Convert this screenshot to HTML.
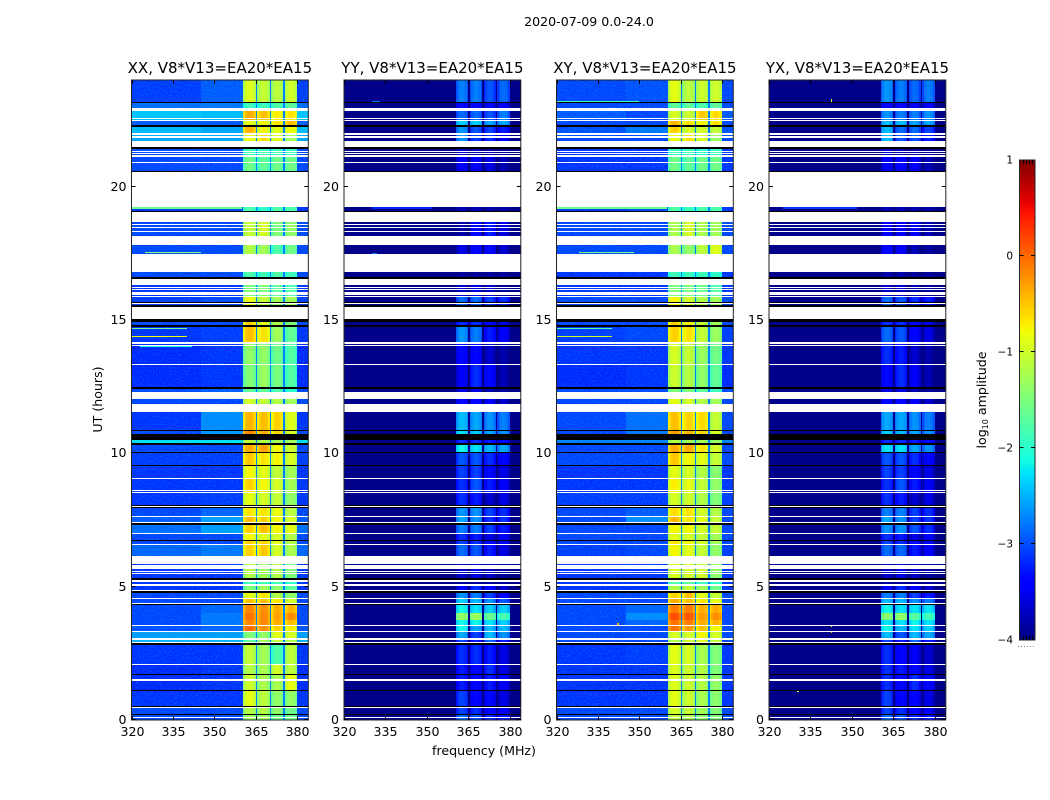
<!DOCTYPE html>
<html>
<head>
<meta charset="utf-8">
<title>2020-07-09 0.0-24.0</title>
<style>
html,body{margin:0;padding:0;background:#fff;width:1050px;height:800px;overflow:hidden}
svg{display:block}
text{font-family:"DejaVu Sans","Liberation Sans",sans-serif;fill:#000}
</style>
</head>
<body>
<svg id="figure" xmlns="http://www.w3.org/2000/svg" width="1050" height="800" viewBox="0 0 1050 800">
  <defs>
    <filter id="speckle" x="0" y="0" width="100%" height="100%">
      <feTurbulence type="fractalNoise" baseFrequency="0.62" numOctaves="1" seed="7"/>
      <feColorMatrix type="matrix" values="0 0 0 0 0  0 0 0 0 0.5  0 0 0 0 1  3 0 0 0 -1.3"/>
    </filter>
    <linearGradient id="jet-gradient" x1="0" y1="1" x2="0" y2="0"></linearGradient>
  </defs>
  <rect width="1050" height="800" fill="#fff"/>
  <text x="589" y="26" text-anchor="middle" font-size="12.6">2020-07-09 0.0-24.0</text>
  <text x="484" y="755" text-anchor="middle" font-size="12.6">frequency (MHz)</text>
  <text transform="translate(102,399.5) rotate(-90)" text-anchor="middle" font-size="12.6">UT (hours)</text>
  <text transform="translate(986,400) rotate(-90)" text-anchor="middle" font-size="12.6">log<tspan font-size="8" dy="2">10</tspan><tspan dy="-2"> amplitude</tspan></text>
  <g id="panels"></g>
  <g id="colorbar"></g>
</svg>
<script>
// Polarisation panels
const panelTitles = ['XX, V8*V13=EA20*EA15', 'YY, V8*V13=EA20*EA15', 'XY, V8*V13=EA20*EA15', 'YX, V8*V13=EA20*EA15'];
const hourTicks = [0, 5, 10, 15, 20];
const freqTicks = [320, 335, 350, 365, 380];
const colorTicks = [1, 0, -1, -2, -3, -4];
const colorMin = -4;
const colorMax = 1;

// Frequency windows (MHz): the four spectral windows
const spwWindows = [[360.4, 365], [365.6, 370], [370.5, 375], [375.5, 380]];
// Relative log amplitude across each spectral window
const spwShape = [-0.22, -0.06, 0.02, 0.06, 0.05, 0.02, -0.03, -0.16];

// Time blocks (UT hours, descending)
const blockEdges = [24, 23.15, 22.85, 22.45, 22.28, 21.97, 21.45, 21.11, 19.24, 18.66, 17.81, 16.8, 16.3, 15.85, 15.04, 14.78, 14.14, 13.31, 12.4, 12.04, 11.56, 10.86, 10.5, 10.35, 10.03, 9.55, 9.05, 8.55, 8, 7.6, 7.4, 6.98, 6.72, 6.58, 5.85, 5.28, 5.06, 4.85, 4.56, 4.32, 4, 3.75, 3.53, 3.32, 3.04, 2.85, 2.08, 1.71, 1.11, 0.52, 0.2, 0];

// Log10 amplitudes per block: [bg 320-345, bg 345-360, spw1, spw2, spw3, spw4]
const levelsXX = [
[-3.1,-2.95,-0.95,-1.1,-1.15,-1.05],[-2.85,-2.8,-1.9,-1.9,-1.8,-1.7],[-2.4,-2.45,-0.4,-0.5,-0.75,-0.7],[-2.95,-2.95,-0.9,-0.8,-0.7,-0.5],[-2.45,-2.55,-0.45,-0.8,-0.9,-0.85],[-2.55,-2.55,-0.85,-0.65,-0.9,-1.3],[-3.05,-3.05,-1.9,-1.9,-1.9,-1.9],[-3.05,-3.05,-1.6,-1.7,-1.6,-1.6],[-3.15,-3.05,-1.8,-2,-1.8,-1.8],[-3.05,-3.05,-1.1,-1,-1.5,-1.4],
[-3.05,-3.05,-1.2,-1.3,-1.8,-1.6],[-3.05,-3.05,-1.8,-1.9,-1.8,-1.9],[-3.15,-3.15,-1.5,-1.5,-1.7,-1.8],[-3.1,-3.05,-0.85,-1.1,-1.3,-1.3],[-3.05,-3.05,-0.6,-0.9,-1.2,-1.5],[-3.15,-3.1,-0.5,-0.7,-1.3,-1.7],[-3.2,-3.15,-1.4,-1.4,-1.6,-1.8],[-3.2,-3.15,-1.5,-1.35,-1.55,-1.8],[-3.05,-2.95,-1.7,-1.7,-1.8,-2],[-3.05,-3.05,-1,-1.1,-1.2,-1.3],
[-3.15,-2.7,-0.45,-0.5,-0.6,-0.95],[-3.05,-2.65,-0.2,-0.4,-0.6,-1],[-2.25,-2.25,-1.1,-1.2,-1.3,-1.3],[-3.05,-3.05,-0.4,-0.35,-0.8,-1.05],[-3.1,-3.1,-0.55,-0.7,-0.8,-1],[-3.15,-3.15,-0.8,-0.9,-1.1,-1.3],[-3.15,-3.15,-0.6,-0.8,-1,-1.3],[-3.15,-3.1,-0.9,-1,-1.1,-1.4],[-3.05,-2.9,-0.7,-0.7,-0.85,-1.15],[-2.95,-2.6,-0.5,-0.6,-0.8,-1],
[-2.85,-2.6,-0.6,-0.5,-0.8,-0.9],[-3.05,-3.05,-0.8,-0.9,-1,-1.2],[-3.05,-3.05,-0.6,-0.6,-0.9,-1.2],[-2.9,-2.8,-0.6,-0.55,-1,-1.25],[-3.15,-3.15,-1.2,-1.3,-1.2,-1.5],[-3.15,-3.15,-1.9,-1.9,-1.9,-2],[-3.15,-3.15,-1.5,-1.3,-1.4,-1.7],[-3.05,-3.05,-0.9,-0.7,-1.2,-1.4],[-3.05,-3.05,-0.5,-0.5,-0.7,-1],[-3.05,-2.9,-0.2,-0.25,-0.4,-0.45],
[-3.05,-2.8,-0.1,-0.2,-0.35,-0.25],[-3.05,-2.8,-0.2,-0.2,-0.4,-0.5],[-3,-2.9,-0.05,-0.25,-0.6,-0.75],[-2.6,-2.6,-1.5,-1.4,-0.9,-1],[-2.5,-2.5,-1.7,-1.3,-1.1,-1.2],[-3.15,-3.15,-1.1,-1.3,-1.8,-1.15],[-3.2,-3.15,-1.2,-1.25,-1,-1.15],[-3.2,-3.15,-1.05,-1.25,-1.25,-0.9],[-3.15,-3.15,-0.9,-1.15,-1.4,-1.4],[-3.05,-3.05,-1.2,-1.2,-1.4,-1.6],[-3.05,-3.05,-1.3,-1.3,-1.6,-1.6]
];
const levelsXY = [
[-3.05,-3,-0.9,-1.15,-1.05,-1.05],[-3.05,-3.05,-1.7,-1.7,-1.8,-1.7],[-2.95,-3.05,-1,-1.05,-0.55,-0.65],[-3.05,-3.05,-0.45,-0.7,-0.8,-0.7],[-3,-2.8,-0.6,-1,-1,-1.1],[-3.05,-3.05,-0.85,-0.7,-0.95,-1.35],[-3.15,-3.15,-1.9,-1.9,-2,-1.9],[-3.15,-3.15,-1.6,-1.7,-1.6,-1.6],[-3.15,-3.05,-1.8,-1.9,-1.8,-1.8],[-3.05,-3.05,-1.25,-1,-1.25,-1.3],
[-3.05,-3.05,-1.25,-1.4,-1.15,-0.95],[-3.15,-3.15,-1.9,-1.9,-1.9,-2],[-3.15,-3.15,-1.5,-1.5,-1.6,-1.8],[-3.05,-3.05,-0.8,-1,-1.2,-1.3],[-3.05,-3.05,-0.6,-0.8,-1.1,-1.3],[-3.1,-3.05,-0.6,-0.7,-1.1,-1.35],[-3.15,-3.15,-1,-1.1,-1.35,-1.6],[-3.2,-3.15,-1.05,-1.2,-1.4,-1.7],[-3.05,-3.05,-1.5,-1.5,-1.7,-1.9],[-3.05,-3.05,-0.9,-1,-1.2,-1.3],
[-3.05,-2.85,-0.5,-0.6,-0.65,-1.1],[-3.05,-2.8,-0.3,-0.45,-0.6,-1],[-2.75,-2.75,-1.2,-1.3,-1.3,-1.4],[-3.05,-3.05,-0.4,-0.4,-0.7,-1],[-3.05,-3.05,-0.55,-0.8,-0.9,-1.1],[-3.15,-3.15,-0.9,-1,-1.2,-1.45],[-3.15,-3.15,-0.75,-0.9,-1.1,-1.4],[-3.1,-3.1,-1,-1.05,-1.2,-1.5],[-3.05,-2.95,-0.65,-0.7,-1,-1.2],[-3.05,-2.7,-0.45,-0.7,-0.9,-1.1],
[-3.05,-3.05,-0.8,-0.8,-1,-1.1],[-3.05,-3.05,-0.9,-1,-1.1,-1.3],[-3.05,-3.05,-0.7,-0.8,-1,-1.3],[-3.1,-3.05,-0.8,-0.9,-1.1,-1.4],[-3.15,-3.15,-0.95,-1,-1,-1.4],[-3.15,-3.15,-1.8,-1.7,-1.9,-2],[-3.15,-3.15,-1.2,-1.1,-1.3,-1.6],[-3.05,-3.05,-0.6,-0.5,-0.9,-1.1],[-3.05,-3.05,-0.4,-0.5,-0.7,-0.9],[-3.05,-2.9,-0.15,-0.15,-0.4,-0.4],
[-3.05,-2.7,0.1,0.05,-0.3,-0.25],[-3.05,-2.9,-0.1,-0.15,-0.4,-0.45],[-3.05,-3.05,-0.1,-0.3,-0.5,-0.8],[-3.05,-3.05,-1,-1,-0.8,-1],[-3.05,-3.05,-1.2,-1,-0.9,-1.1],[-3.15,-3.1,-0.9,-1,-1.25,-1.5],[-3.15,-3.15,-0.95,-1.05,-1.2,-1.5],[-3.15,-3.15,-0.95,-1.05,-1.2,-1.4],[-3.15,-3.15,-0.9,-1.05,-1.25,-1.45],[-3.05,-3.05,-1,-1.1,-1.3,-1.5],[-3.05,-3.05,-1.1,-1.2,-1.4,-1.5]
];
// Cross-hand panels keep a flat floor outside the windows: [spw1, spw2, spw3, spw4]
const levelsYY = [
[-2.8,-2.8,-3,-2.9],[-3.4,-3.4,-3.5,-3.5],[-2.9,-2.9,-3,-2.8],[-2.4,-2.4,-2.6,-2.6],[-2.7,-3,-3.1,-3.3],[-2.7,-3.1,-3.2,-3.5],[-3.7,-3.8,-3.85,-3.9],[-3.5,-3.5,-3.6,-3.8],[-3.8,-3.8,-3.85,-3.85],[-3.85,-3.4,-3.3,-3.6],
[-3.6,-3.4,-3.4,-3.7],[-3.9,-3.9,-3.9,-3.9],[-3.7,-3.6,-3.7,-3.85],[-2.9,-2.9,-3.1,-3.2],[-3.2,-3.2,-3.4,-3.6],[-2.7,-2.8,-3.3,-3.5],[-3.4,-3.4,-3.7,-3.85],[-3.5,-3.2,-3.4,-3.8],[-3.6,-3.6,-3.8,-3.9],[-3.4,-3.4,-3.5,-3.7],
[-2.5,-2.6,-2.7,-2.8],[-2.3,-2.4,-2.6,-2.7],[-3.2,-3.2,-3.3,-3.4],[-2.2,-2.3,-2.5,-2.6],[-3,-3,-3.2,-3.4],[-3.1,-3.1,-3.4,-3.6],[-3.2,-3,-3.3,-3.5],[-3.2,-3.3,-3.7,-3.6],[-2.7,-2.7,-3.1,-3.2],[-2.6,-2.7,-3.2,-3.2],
[-2.8,-2.8,-3.1,-3.3],[-3.2,-3.3,-3.6,-3.5],[-3.1,-3.2,-3.4,-3.5],[-2.9,-3,-3.3,-3.6],[-3.7,-3.6,-3.7,-3.9],[-3.9,-3.9,-3.9,-3.9],[-3.5,-3.2,-3.4,-3.7],[-2.7,-2.8,-3.1,-3.5],[-2.4,-2.5,-2.7,-3],[-2.2,-2.3,-2.4,-2.4],
[-1.4,-1.35,-1.65,-1.85],[-2.2,-2.2,-2.3,-2.4],[-2.2,-2.6,-2.5,-2.5],[-2.6,-3.1,-2.5,-2.7],[-3.1,-3.3,-2.9,-3.3],[-3.2,-3.2,-3.3,-3.6],[-3.3,-3.4,-3.2,-3.6],[-3.3,-3.4,-3.3,-3.5],[-3.1,-3.4,-3.4,-3.6],[-3.1,-3.2,-3.4,-3.5],[-2.9,-3,-3.2,-3.3]
];
const levelsYX = [
[-2.7,-2.8,-2.9,-2.8],[-3.4,-3.4,-3.5,-3.5],[-2.7,-2.8,-2.8,-2.7],[-2.5,-2.5,-2.6,-2.6],[-2.5,-2.9,-2.9,-3.1],[-2.5,-3,-3,-3.3],[-3.7,-3.8,-3.85,-3.9],[-3.5,-3.4,-3.5,-3.8],[-3.8,-3.8,-3.85,-3.85],[-3.5,-3.5,-3.5,-3.8],
[-3.4,-3.5,-3.8,-3.9],[-3.85,-3.85,-3.9,-3.9],[-3.7,-3.7,-3.8,-3.85],[-2.9,-3,-3.2,-3.3],[-3.2,-3.2,-3.4,-3.6],[-2.9,-3,-3.4,-3.6],[-3.2,-3.3,-3.7,-3.85],[-3.4,-3.2,-3.5,-3.8],[-3.6,-3.6,-3.8,-3.9],[-3.4,-3.4,-3.5,-3.7],
[-2.6,-2.6,-2.7,-2.8],[-2.4,-2.5,-2.6,-2.7],[-3.2,-3.2,-3.3,-3.4],[-2.3,-2.3,-2.6,-2.7],[-3,-3,-3.2,-3.4],[-3.1,-3.1,-3.4,-3.6],[-3.2,-3,-3.3,-3.5],[-3.2,-3.3,-3.7,-3.6],[-2.8,-2.8,-3.1,-3.2],[-2.6,-2.7,-3.1,-3.2],
[-2.7,-2.7,-3,-3.2],[-3.2,-3.3,-3.6,-3.5],[-3.1,-3.2,-3.4,-3.5],[-2.9,-2.9,-3.3,-3.5],[-3.7,-3.6,-3.7,-3.9],[-3.9,-3.9,-3.9,-3.9],[-3.5,-3.2,-3.4,-3.7],[-2.8,-2.8,-3.1,-3.3],[-2.5,-2.5,-2.7,-2.8],[-2.2,-2.3,-2.3,-2.3],
[-1.45,-1.4,-1.75,-1.9],[-2.3,-2.3,-2.2,-2.3],[-2.2,-2.5,-2.3,-2.4],[-2.5,-3,-2.5,-2.6],[-3.1,-3.3,-2.9,-3.3],[-3.2,-3.4,-3.5,-3.7],[-3.2,-3.3,-3.4,-3.6],[-3.2,-3.4,-3.2,-3.4],[-3.1,-3.4,-3.4,-3.6],[-3.1,-3.2,-3.4,-3.5],[-2.9,-3,-3.2,-3.3]
];
const floorLevel = -3.95;
const gapLevelParallel = -2.75;

// Blank (no data) and flagged (black) time spans [start, end] in UT hours
const blankSpans = [[22.96,22.85],[22.56,22.52],[22.49,22.45],[22,21.95],[21.89,21.84],[21.71,21.48],[21.35,21.31],[21.27,21.24],[21.2,21.11],[20.93,20.89],[20.56,19.24],[19.06,18.66],[18.61,18.57],[18.49,18.45],[18.34,18.3],[18.16,17.81],[17.46,16.8],[16.53,16.3],[16.25,16.21],[16.15,16.11],[16.05,15.94],[15.89,15.85],[15.65,15.61],[15.5,15.04],[14.16,14.11],[14.07,14.03],[13.35,13.31],[12.31,12.04],[11.85,11.56],[9.06,9.02],[8.63,8.59],[8.56,8.52],[8.03,7.99],[7.64,7.6],[7.43,7.39],[7,6.96],[6.6,6.56],[6.15,5.85],[5.82,5.66],[5.6,5.55],[5.52,5.46],[5.24,5.19],[5.1,5.03],[4.88,4.84],[4.58,4.54],[4.39,4.35],[3.55,3.51],[3.34,3.3],[3.08,3],[2.94,2.9],[2.1,2.06],[1.54,1.46],[0.48,0.44],[0.11,0.07]];
const flaggedSpans = [[23.19,23.13],[22.32,22.24],[21.48,21.42],[20.59,20.56],[19.09,19.06],[17.49,17.46],[16.6,16.55],[15.69,15.65],[15.57,15.5],[15.04,14.98],[14.96,14.93],[14.8,14.75],[12.48,12.4],[10.88,10.84],[10.73,10.5],[10.38,10.32],[10.05,10.01],[9.56,9.53],[8.07,8.03],[7.99,7.96],[7.39,7.33],[6.74,6.7],[5.31,5.25],[4.83,4.77],[4.34,4.3],[2.89,2.81],[1.73,1.69],[1.13,1.09],[0.54,0.51],[0.21,0.18]];

// Narrow interference features per panel: [hour, freqStart, freqEnd, level]
const featuresXX = [[19.2,320,360,-1.6],[17.52,325,345,-1.4],[14.67,320,340,-1.6],[14.39,320,340,-0.8],[13.99,323,342,-2.1],[0.5,320,360,-1.7],[15.87,345,352,-2]];
const featuresXY = [[23.2,320,350,-1.8],[19.2,320,360,-1.6],[17.52,328,348,-1.5],[14.67,320,340,-1.8],[14.39,320,340,-1],[15.87,335,352,-2.1],[3.6,342,342.6,-0.4],[0.5,320,360,-1.7]];
const featuresYY = [[23.2,330,333,-2.8],[19.2,330,352,-3.2],[17.5,330,332,-2.8],[0.5,332,334,-2.8]];
const featuresYX = [[23.25,342.3,342.9,-1],[23.18,342.3,342.9,-0.9],[19.2,325,352,-3.1],[16.5,342.3,342.9,-1],[3.52,342.3,342.9,-0.8],[3.3,342.3,342.9,-0.5],[1.08,330.3,330.9,-1],[0.5,330,352,-3.2]];

const panelLeft = [131.5, 344, 556.5, 769];
const panelWidth = 176.8;
const plotTop = 80;
const plotBottom = 720;
const freqMin = 320;
const freqMax = 384;
const hourMax = 24;

const polarisations = [
  {key: 'xx', levels: levelsXX, features: featuresXX, parallel: true},
  {key: 'yy', levels: levelsYY, features: featuresYY, parallel: false},
  {key: 'xy', levels: levelsXY, features: featuresXY, parallel: true},
  {key: 'yx', levels: levelsYX, features: featuresYX, parallel: false}
];

const SVGNS = 'http://www.w3.org/2000/svg';

function interp(stops, t) {
  for (let i = 1; i < stops.length; i++) {
    if (t <= stops[i][0]) {
      const a = stops[i - 1];
      const b = stops[i];
      return a[1] + (b[1] - a[1]) * (t - a[0]) / (b[0] - a[0]);
    }
  }
  return stops[stops.length - 1][1];
}
const jetR = [[0,0],[0.35,0],[0.66,1],[0.89,1],[1,0.5]];
const jetG = [[0,0],[0.125,0],[0.375,1],[0.64,1],[0.91,0],[1,0]];
const jetB = [[0,0.5],[0.11,1],[0.34,1],[0.65,0],[1,0]];
function jet(t) {
  const c = Math.max(0, Math.min(1, t));
  return 'rgb(' + Math.round(255 * interp(jetR, c)) + ',' + Math.round(255 * interp(jetG, c)) + ',' + Math.round(255 * interp(jetB, c)) + ')';
}
function colorOf(level) { return jet((level - colorMin) / (colorMax - colorMin)); }
function yOf(hour) { return plotBottom - hour * (plotBottom - plotTop) / hourMax; }
function xOf(freq, left) { return left + (freq - freqMin) * panelWidth / (freqMax - freqMin); }

function node(tag, parent, attrs) {
  const el = document.createElementNS(SVGNS, tag);
  for (const k in attrs) el.setAttribute(k, attrs[k]);
  parent.appendChild(el);
  return el;
}

function cell(parent, left, f0, f1, h0, h1, fill) {
  const x0 = Math.round(xOf(f0, left));
  const x1 = Math.max(x0 + 1, Math.round(xOf(f1, left)));
  const y0 = Math.round(yOf(h0));
  const y1 = Math.max(y0 + 1, Math.round(yOf(h1)));
  const el = node('rect', parent, {x: x0, y: y0, width: x1 - x0, height: y1 - y0, fill: fill});
  
  
  return el;
}

function drawPanel(index) {
  const pol = polarisations[index];
  const left = panelLeft[index];
  const right = left + panelWidth;
  const panel = node('g', document.getElementById('panels'), {});
  
  

  const image = node('g', panel, {'shape-rendering': 'crispEdges'});
  
  

  for (let b = 0; b < blockEdges.length - 1; b++) {
    const h0 = blockEdges[b];
    const h1 = blockEdges[b + 1];
    const row = pol.levels[b];
    const bgL = pol.parallel ? row[0] : floorLevel;
    const bgR = pol.parallel ? row[1] : floorLevel;
    const spw = pol.parallel ? row.slice(2) : row;
    const gap = pol.parallel ? gapLevelParallel : floorLevel;
    cell(image, left, 320, 345, h0, h1, colorOf(bgL));
    cell(image, left, 345, spwWindows[0][0], h0, h1, colorOf(bgR));
    cell(image, left, spwWindows[0][1], spwWindows[1][0], h0, h1, colorOf(gap));
    cell(image, left, spwWindows[1][1], spwWindows[2][0], h0, h1, colorOf(gap));
    cell(image, left, spwWindows[2][1], spwWindows[3][0], h0, h1, colorOf(gap));
    cell(image, left, spwWindows[3][1], freqMax, h0, h1, colorOf(pol.parallel ? bgL : floorLevel));
    spwWindows.forEach(function (win, w) {
      const step = (win[1] - win[0]) / spwShape.length;
      spwShape.forEach(function (offset, s) {
        const level = Math.max(floorLevel, spw[w] + offset);
        cell(image, left, win[0] + s * step, win[0] + (s + 1) * step, h0, h1, colorOf(level));
      });
    });
  }

  if (pol.parallel) {
    [[320, spwWindows[0][0]], [spwWindows[3][1], freqMax]].forEach(function (range) {
      const tex = node('rect', image, {
        x: xOf(range[0], left), y: plotTop,
        width: xOf(range[1], left) - xOf(range[0], left), height: plotBottom - plotTop,
        filter: 'url(#speckle)', opacity: '0.3'
      });
      
      
    });
  }

  pol.features.forEach(function (f) {
    const el = cell(image, left, f[1], f[2], f[0] + 0.02, f[0] - 0.02, colorOf(f[3]));
    
  });
  flaggedSpans.forEach(function (s) {
    const el = cell(image, left, freqMin, freqMax, s[0], s[1], '#000');
    
  });
  blankSpans.forEach(function (s) {
    const el = cell(image, left, freqMin, freqMax, s[0], s[1], '#fff');
    
  });

  const frame = node('rect', panel, {
    x: left, y: plotTop, width: panelWidth, height: plotBottom - plotTop,
    fill: 'none', stroke: '#222', 'stroke-width': 1
  });
  
  

  hourTicks.forEach(function (h) {
    const y = Math.round(yOf(h)) - 0.5;
    const t1 = node('line', panel, {x1: left, x2: left + 4, y1: y, y2: y, stroke: '#000'});
    
    
    const t2 = node('line', panel, {x1: right - 4, x2: right, y1: y, y2: y, stroke: '#000'});
    
    
    const label = node('text', panel, {x: left - 5, y: y + 4.5, 'text-anchor': 'end', 'font-size': 12.6});
    
    
    label.textContent = String(h);
  });
  freqTicks.forEach(function (f) {
    const x = Math.round(xOf(f, left)) + 0.5;
    const t1 = node('line', panel, {x1: x, x2: x, y1: plotBottom, y2: plotBottom - 4, stroke: '#000'});
    
    
    const t2 = node('line', panel, {x1: x, x2: x, y1: plotTop, y2: plotTop + 4, stroke: '#000'});
    
    
    const label = node('text', panel, {x: x, y: 736, 'text-anchor': 'middle', 'font-size': 12.6});
    
    
    label.textContent = String(f);
  });
  const title = node('text', panel, {x: left + panelWidth / 2, y: 73, 'text-anchor': 'middle', 'font-size': 15});
  
  
  title.textContent = panelTitles[index];
}

function drawColorbar() {
  const bar = document.getElementById('colorbar');
  const grad = document.getElementById('jet-gradient');
  for (let i = 0; i <= 64; i++) {
    node('stop', grad, {offset: i / 64, 'stop-color': jet(i / 64)});
  }
  const cbLeft = 1019.5;
  const cbWidth = 15.5;
  const cbTop = 160;
  const cbBottom = 640;
  const yCb = function (v) { return cbBottom - (v - colorMin) * (cbBottom - cbTop) / (colorMax - colorMin); };
  const fill = node('rect', bar, {x: cbLeft, y: cbTop, width: cbWidth, height: cbBottom - cbTop, fill: 'url(#jet-gradient)', stroke: '#222', 'stroke-width': 1});
  
  
  colorTicks.forEach(function (v) {
    const y = yCb(v) - 0.5;
    if (v < colorMax && v > colorMin) {
      const t1 = node('line', bar, {x1: cbLeft, x2: cbLeft + 4, y1: y, y2: y, stroke: '#000'});
      
      
      const t2 = node('line', bar, {x1: cbLeft + cbWidth - 4, x2: cbLeft + cbWidth, y1: y, y2: y, stroke: '#000'});
      
      
    }
    const label = node('text', bar, {x: 1013, y: yCb(v) + 3.5, 'text-anchor': 'end', 'font-size': 10.5});
    
    
    label.textContent = String(v).replace('-', '\u2212');
  });
  [0.2, 0.4, 0.6, 0.8].forEach(function (r) {
    const x = Math.round(cbLeft + r * cbWidth) + 0.5;
    const a = node('line', bar, {x1: x, x2: x, y1: cbTop, y2: cbTop + 4, stroke: '#000'});
    
    
    const b = node('line', bar, {x1: x, x2: x, y1: cbBottom, y2: cbBottom - 4, stroke: '#000'});
    
    
  });
  const dots = node('line', bar, {x1: 1018, x2: 1035, y1: 646.5, y2: 646.5, stroke: '#888', 'stroke-width': 1, 'stroke-dasharray': '1 2'});
  
  
}

for (let i = 0; i < polarisations.length; i++) drawPanel(i);
drawColorbar();
</script>
</body>
</html>
